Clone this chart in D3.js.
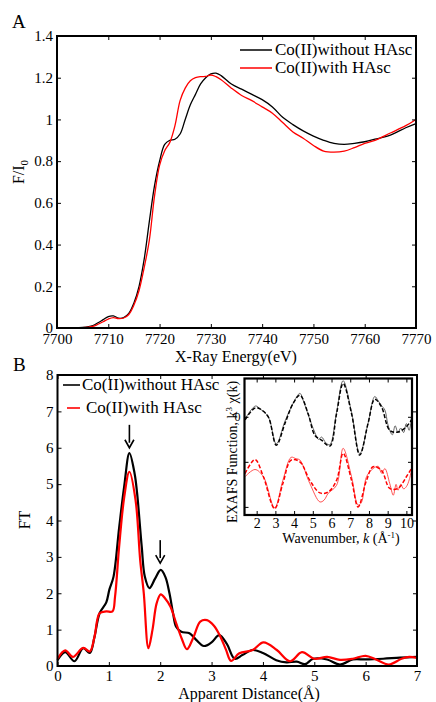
<!DOCTYPE html>
<meta charset="utf-8">
<script src="https://d3js.org/d3.v7.min.js"></script>
<style>
  body { margin: 0; background: #fff; }
  svg text { font-family: "Liberation Serif", "Times New Roman", "DejaVu Serif", serif !important; fill: #000; }
</style>
<div id="chart"></div>
<script>

// ---- panel A: XANES ----
const energy = [7700,7705,7707,7708,7709,7710,7711,7712,7713,7714,7715,7716,7717,7718,7719,7720,7721,7722,7723,7724,7725,7726,7727,7728,7729,7730,7731,7732,7734,7736,7738,7740,7742,7744,7746,7748,7750,7752,7754,7756,7758,7760,7762,7765,7768,7770];
const xanesWithout = [0,0.003,0.012,0.025,0.04,0.055,0.058,0.047,0.05,0.07,0.12,0.2,0.33,0.51,0.68,0.8,0.88,0.9,0.905,0.93,1.0,1.07,1.12,1.17,1.2,1.218,1.222,1.21,1.17,1.145,1.12,1.095,1.06,1.01,0.975,0.945,0.92,0.9,0.885,0.88,0.885,0.893,0.905,0.925,0.96,0.98];
const xanesWith = [0,0.002,0.008,0.018,0.03,0.043,0.05,0.045,0.048,0.065,0.11,0.18,0.29,0.42,0.63,0.78,0.85,0.89,0.97,1.09,1.15,1.185,1.2,1.205,1.206,1.213,1.205,1.19,1.15,1.115,1.09,1.06,1.03,0.985,0.94,0.91,0.875,0.848,0.843,0.848,0.865,0.885,0.9,0.935,0.97,1.0];
const energyTicks = [7700,7710,7720,7730,7740,7750,7760,7770];
const fTicks = [0,0.2,0.4,0.6,0.8,1,1.2,1.4];

// ---- panel B: Fourier transform ----
const ftWithoutR = [0,0.15,0.33,0.5,0.63,0.72,0.82,0.95,1.01,1.09,1.2,1.3,1.4,1.5,1.55,1.64,1.7,1.79,1.9,2.01,2.1,2.18,2.25,2.31,2.41,2.57,2.7,2.85,3.0,3.15,3.3,3.45,3.6,3.8,4.0,4.26,4.46,4.66,4.82,4.98,5.25,5.5,5.75,6.0,6.34,6.67,7.0];
const ftWithoutV = [0.16,0.38,0.13,0.49,0.36,0.8,1.45,1.75,2.1,2.45,3.8,4.95,5.85,5.3,4.75,3.28,2.46,2.14,2.4,2.64,2.45,2.0,1.45,1.08,0.94,0.9,0.72,0.55,0.65,0.85,0.6,0.2,0.3,0.44,0.36,0.16,0.1,0.12,0.05,0.2,0.18,0.04,0.18,0.18,0.2,0.23,0.25];
const ftWithR = [0,0.15,0.3,0.5,0.63,0.72,0.82,0.95,1.07,1.12,1.2,1.3,1.4,1.52,1.61,1.68,1.77,1.85,1.93,2.01,2.1,2.2,2.31,2.42,2.52,2.65,2.78,2.91,3.05,3.17,3.28,3.38,3.54,3.8,4.01,4.27,4.53,4.76,5.0,5.25,5.5,5.75,6.0,6.2,6.45,6.7,6.85,7.0];
const ftWithV = [0.2,0.43,0.25,0.5,0.4,0.8,1.45,1.5,1.5,1.9,3.28,4.65,5.34,4.56,2.91,2.0,0.49,1.0,1.72,1.97,1.85,1.63,1.18,0.75,0.46,0.8,1.22,1.26,1.1,0.81,0.45,0.14,0.35,0.44,0.65,0.44,0.13,0.38,0.2,0.25,0.17,0.2,0.28,0.18,0.04,0.2,0.25,0.22];
const distTicks = [0,1,2,3,4,5,6,7];
const ftTicks = [0,1,2,3,4,5,6,7,8];
const arrowR = [1.4, 2.0];
const arrowTop = [6.63, 3.46];
const arrowTip = [6.0, 2.83];

// ---- inset: EXAFS k-space ----
const kFitWithout = [1.38,1.7,1.95,2.2,2.62,3.05,3.51,3.95,4.31,4.75,5.11,5.47,5.91,6.27,6.62,7.07,7.51,7.95,8.31,8.67,9.11,9.55,10.0,10.27];
const chiFitWithout = [-0.07,0.12,0.2,0.17,0.0,-0.63,-0.15,0.3,0.48,0.07,-0.41,-0.52,-0.65,0.07,0.74,0.07,-0.85,-0.15,0.39,0.22,-0.3,-0.34,-0.22,-0.07];
const kDataWithout = [1.38,1.7,1.95,2.2,2.62,3.05,3.51,3.95,4.31,4.5,4.75,5.11,5.3,5.47,5.7,5.91,6.27,6.62,7.07,7.51,7.95,8.31,8.5,8.67,8.85,9.0,9.11,9.25,9.4,9.55,9.7,9.85,10.0,10.15,10.27];
const chiDataWithout = [-0.05,0.15,0.24,0.17,0.0,-0.6,-0.1,0.3,0.52,0.35,0.05,-0.35,-0.5,-0.45,-0.58,-0.62,0.1,0.8,0.1,-0.82,-0.15,0.45,0.35,0.25,0.15,-0.15,-0.3,-0.4,-0.2,-0.35,-0.25,-0.35,-0.15,-0.3,0.0];
const kFitWith = [1.38,1.91,2.36,2.96,3.4,3.84,4.31,4.84,5.38,5.82,6.27,6.62,7.07,7.42,7.87,8.22,8.67,9.11,9.55,10.0,10.27];
const chiFitWith = [-1.26,-0.95,-1.33,-2.04,-1.48,-0.96,-1.0,-1.41,-1.69,-1.67,-1.41,-0.81,-1.41,-2.0,-1.41,-1.11,-1.19,-1.59,-1.59,-1.33,-1.15];
const kDataWith = [1.38,1.91,2.36,2.96,3.4,3.84,4.1,4.31,4.84,5.38,5.6,5.82,6.27,6.62,7.07,7.42,7.6,7.87,8.22,8.5,8.67,8.85,9.11,9.3,9.45,9.55,9.7,9.85,10.0,10.15,10.27];
const chiDataWith = [-1.33,-1.17,-1.33,-2.02,-1.41,-0.9,-0.93,-0.96,-1.48,-1.89,-1.85,-1.7,-1.52,-0.7,-1.33,-1.96,-1.9,-1.33,-1.15,-1.1,-1.25,-1.15,-1.48,-1.74,-1.5,-1.63,-1.5,-1.6,-1.55,-1.4,-1.19];
const kTicks = [2,3,4,5,6,7,8,9,10];
const chiTicks = [0,-1,-2];

const legendLabels = ["Co(II)without HAsc", "Co(II)with HAsc"];
const colors = ["#000", "#ff0000"];
const serif = '"Liberation Serif", "Times New Roman", "DejaVu Serif", serif';

const W = 436, H = 702;
const svg = d3.select("#chart").append("svg")
  .attr("width", W).attr("height", H)
  .attr("font-family", serif);

// draws a matlab-like box with inward ticks on all four sides
function frame(g, x, y, xt, yt, fmtX, fmtY, fs, pad) {
  const [x0, x1] = x.range(), [y0, y1] = y.range();
  g.append("g").attr("transform", `translate(0,${y0})`)
    .call(d3.axisBottom(x).tickValues(xt).tickSize(-4).tickPadding(pad).tickFormat(fmtX))
    .call(a => a.select(".domain").remove());
  g.append("g").attr("transform", `translate(0,${y1})`)
    .call(d3.axisTop(x).tickValues(xt).tickSize(-4).tickFormat(""))
    .call(a => a.select(".domain").remove());
  g.append("g").attr("transform", `translate(${x0},0)`)
    .call(d3.axisLeft(y).tickValues(yt).tickSize(-4).tickPadding(4).tickFormat(fmtY))
    .call(a => a.select(".domain").remove());
  g.append("g").attr("transform", `translate(${x1},0)`)
    .call(d3.axisRight(y).tickValues(yt).tickSize(-4).tickFormat(""))
    .call(a => a.select(".domain").remove());
  g.selectAll("g").attr("font-family", serif);
  g.selectAll(".tick line").attr("stroke", "#000").attr("stroke-width", 1);
  g.selectAll(".tick text").style("font-size", fs + "px").attr("fill", "#000");
  g.append("rect").attr("class", "frame").attr("x", x0).attr("y", y1)
    .attr("width", x1 - x0).attr("height", y0 - y1)
    .attr("fill", "none").attr("stroke", "#000").attr("stroke-width", 2);
}

// ---------- panel A ----------
const xA = d3.scaleLinear().domain([7700, 7770]).range([57, 416]);
const yA = d3.scaleLinear().domain([0, 1.4]).range([328, 36]);
const gA = svg.append("g");

const lineA = d3.line().curve(d3.curveCatmullRom)
  .x((d, i) => xA(energy[i])).y(d => yA(d));
gA.append("path").datum(xanesWithout).attr("d", lineA)
  .attr("fill", "none").attr("stroke", colors[0]).attr("stroke-width", 1.3);
gA.append("path").datum(xanesWith).attr("d", lineA)
  .attr("fill", "none").attr("stroke", colors[1]).attr("stroke-width", 1.3);

frame(gA, xA, yA, energyTicks, fTicks, d3.format("d"), d => d3.format("")(d), 15, 5);

// legend A
legendLabels.forEach((t, i) => {
  const ly = 50 + i * 18;
  gA.append("line").attr("x1", 240).attr("x2", 272).attr("y1", ly).attr("y2", ly)
    .attr("stroke", colors[i]).attr("stroke-width", 1.5);
  gA.append("text").attr("x", 275).attr("y", ly).attr("dy", "0.32em")
    .style("font-size", "17px").text(t);
});

gA.append("text").attr("x", 12).attr("y", 28).style("font-size", "19px").text("A");
gA.append("text").attr("x", 236).attr("y", 362).attr("text-anchor", "middle")
  .style("font-size", "16px").text("X-Ray Energy(eV)");
const fl = gA.append("text").attr("transform", "translate(24,172) rotate(-90)")
  .attr("text-anchor", "middle").style("font-size", "16px");
fl.append("tspan").text("F/I");
fl.append("tspan").attr("dy", 4).style("font-size", "11px").text("0");

// ---------- panel B ----------
const xB = d3.scaleLinear().domain([0, 7]).range([57.5, 417]);
const yB = d3.scaleLinear().domain([0, 8]).range([666, 375]);
const gB = svg.append("g");

const ftSeries = [[ftWithoutR, ftWithoutV], [ftWithR, ftWithV]];
ftSeries.forEach(([rs, vs], i) => {
  gB.append("path").datum(vs)
    .attr("d", d3.line().curve(d3.curveCatmullRom).x((d, j) => xB(rs[j])).y(d => yB(d)))
    .attr("fill", "none").attr("stroke", colors[i]).attr("stroke-width", 2.2);
});

frame(gB, xB, yB, distTicks, ftTicks, d3.format("d"), d3.format("d"), 15, 4);

// arrows
arrowR.forEach((r, i) => {
  const ax = xB(r), yt = yB(arrowTop[i]), yp = yB(arrowTip[i]);
  gB.append("line").attr("x1", ax).attr("x2", ax).attr("y1", yt).attr("y2", yp - 5)
    .attr("stroke", "#000").attr("stroke-width", 1.6);
  gB.append("path").attr("d", `M${ax - 4.5},${yp - 8} L${ax},${yp} L${ax + 4.5},${yp - 8}`)
    .attr("fill", "none").attr("stroke", "#000").attr("stroke-width", 1.6);
});

// legend B
[[63, 385, 82], [67, 408, 86]].forEach(([lx, ly, tx], i) => {
  gB.append("line").attr("x1", lx).attr("x2", 80).attr("y1", ly).attr("y2", ly)
    .attr("stroke", colors[i]).attr("stroke-width", 1.6);
  gB.append("text").attr("x", tx).attr("y", ly).attr("dy", "0.32em")
    .style("font-size", "17px").text(legendLabels[i]);
});

gB.append("text").attr("x", 13).attr("y", 371).style("font-size", "19px").text("B");
gB.append("text").attr("x", 249).attr("y", 699).attr("text-anchor", "middle")
  .style("font-size", "16px").text("Apparent Distance(Å)");
gB.append("text").attr("transform", "translate(30,520) rotate(-90)")
  .attr("text-anchor", "middle").style("font-size", "16px").text("FT");

// ---------- inset ----------
const xI = d3.scaleLinear().domain([1.35, 10.3]).range([244.5, 412]);
const yI = d3.scaleLinear().domain([-2.18, 0.85]).range([515, 378.5]);
const gI = svg.append("g");
gI.append("rect").attr("x", 244.5).attr("y", 378.5).attr("width", 167.5).attr("height", 136.5).attr("fill", "#fff");
gI.append("clipPath").attr("id", "clipI").append("rect")
  .attr("x", 244.5).attr("y", 378.5).attr("width", 167.5).attr("height", 136.5);

const lineI = (ks) => d3.line().curve(d3.curveCatmullRom).x((d, j) => xI(ks[j])).y(d => yI(d));
const inset = [
  [kDataWithout, chiDataWithout, "#555", 0.9, null],
  [kFitWithout, chiFitWithout, "#000", 1.5, "4,2"],
  [kDataWith, chiDataWith, "#ff4040", 0.9, null],
  [kFitWith, chiFitWith, "#ff0000", 1.5, "4,2"]
];
inset.forEach(([ks, vs, c, w, dash]) => {
  gI.append("path").datum(vs).attr("d", lineI(ks)).attr("clip-path", "url(#clipI)")
    .attr("fill", "none").attr("stroke", c).attr("stroke-width", w)
    .attr("stroke-dasharray", dash);
});

frame(gI, xI, yI, kTicks, chiTicks, d3.format("d"), d => d === 0 ? "0" : "", 14, 3);
gI.select("rect.frame").attr("stroke-width", 2.2);
gI.selectAll(".tick text").filter(d => d === 0).style("font-size", "12px");

const xl = gI.append("text").attr("x", 341).attr("y", 543).attr("text-anchor", "middle")
  .style("font-size", "14px");
xl.append("tspan").text("Wavenumber, ");
xl.append("tspan").style("font-style", "italic").text("k");
xl.append("tspan").text(" (Å");
xl.append("tspan").attr("dy", -5).style("font-size", "9px").text("-1");
xl.append("tspan").attr("dy", 5).text(")");

const yl = gI.append("text").attr("transform", "translate(237,452) rotate(-90)")
  .attr("text-anchor", "middle").style("font-size", "14px");
yl.append("tspan").text("EXAFS Function, k");
yl.append("tspan").attr("dy", -5).style("font-size", "9px").text("3");
yl.append("tspan").attr("dy", 5).text(" χ(k)");

</script>
